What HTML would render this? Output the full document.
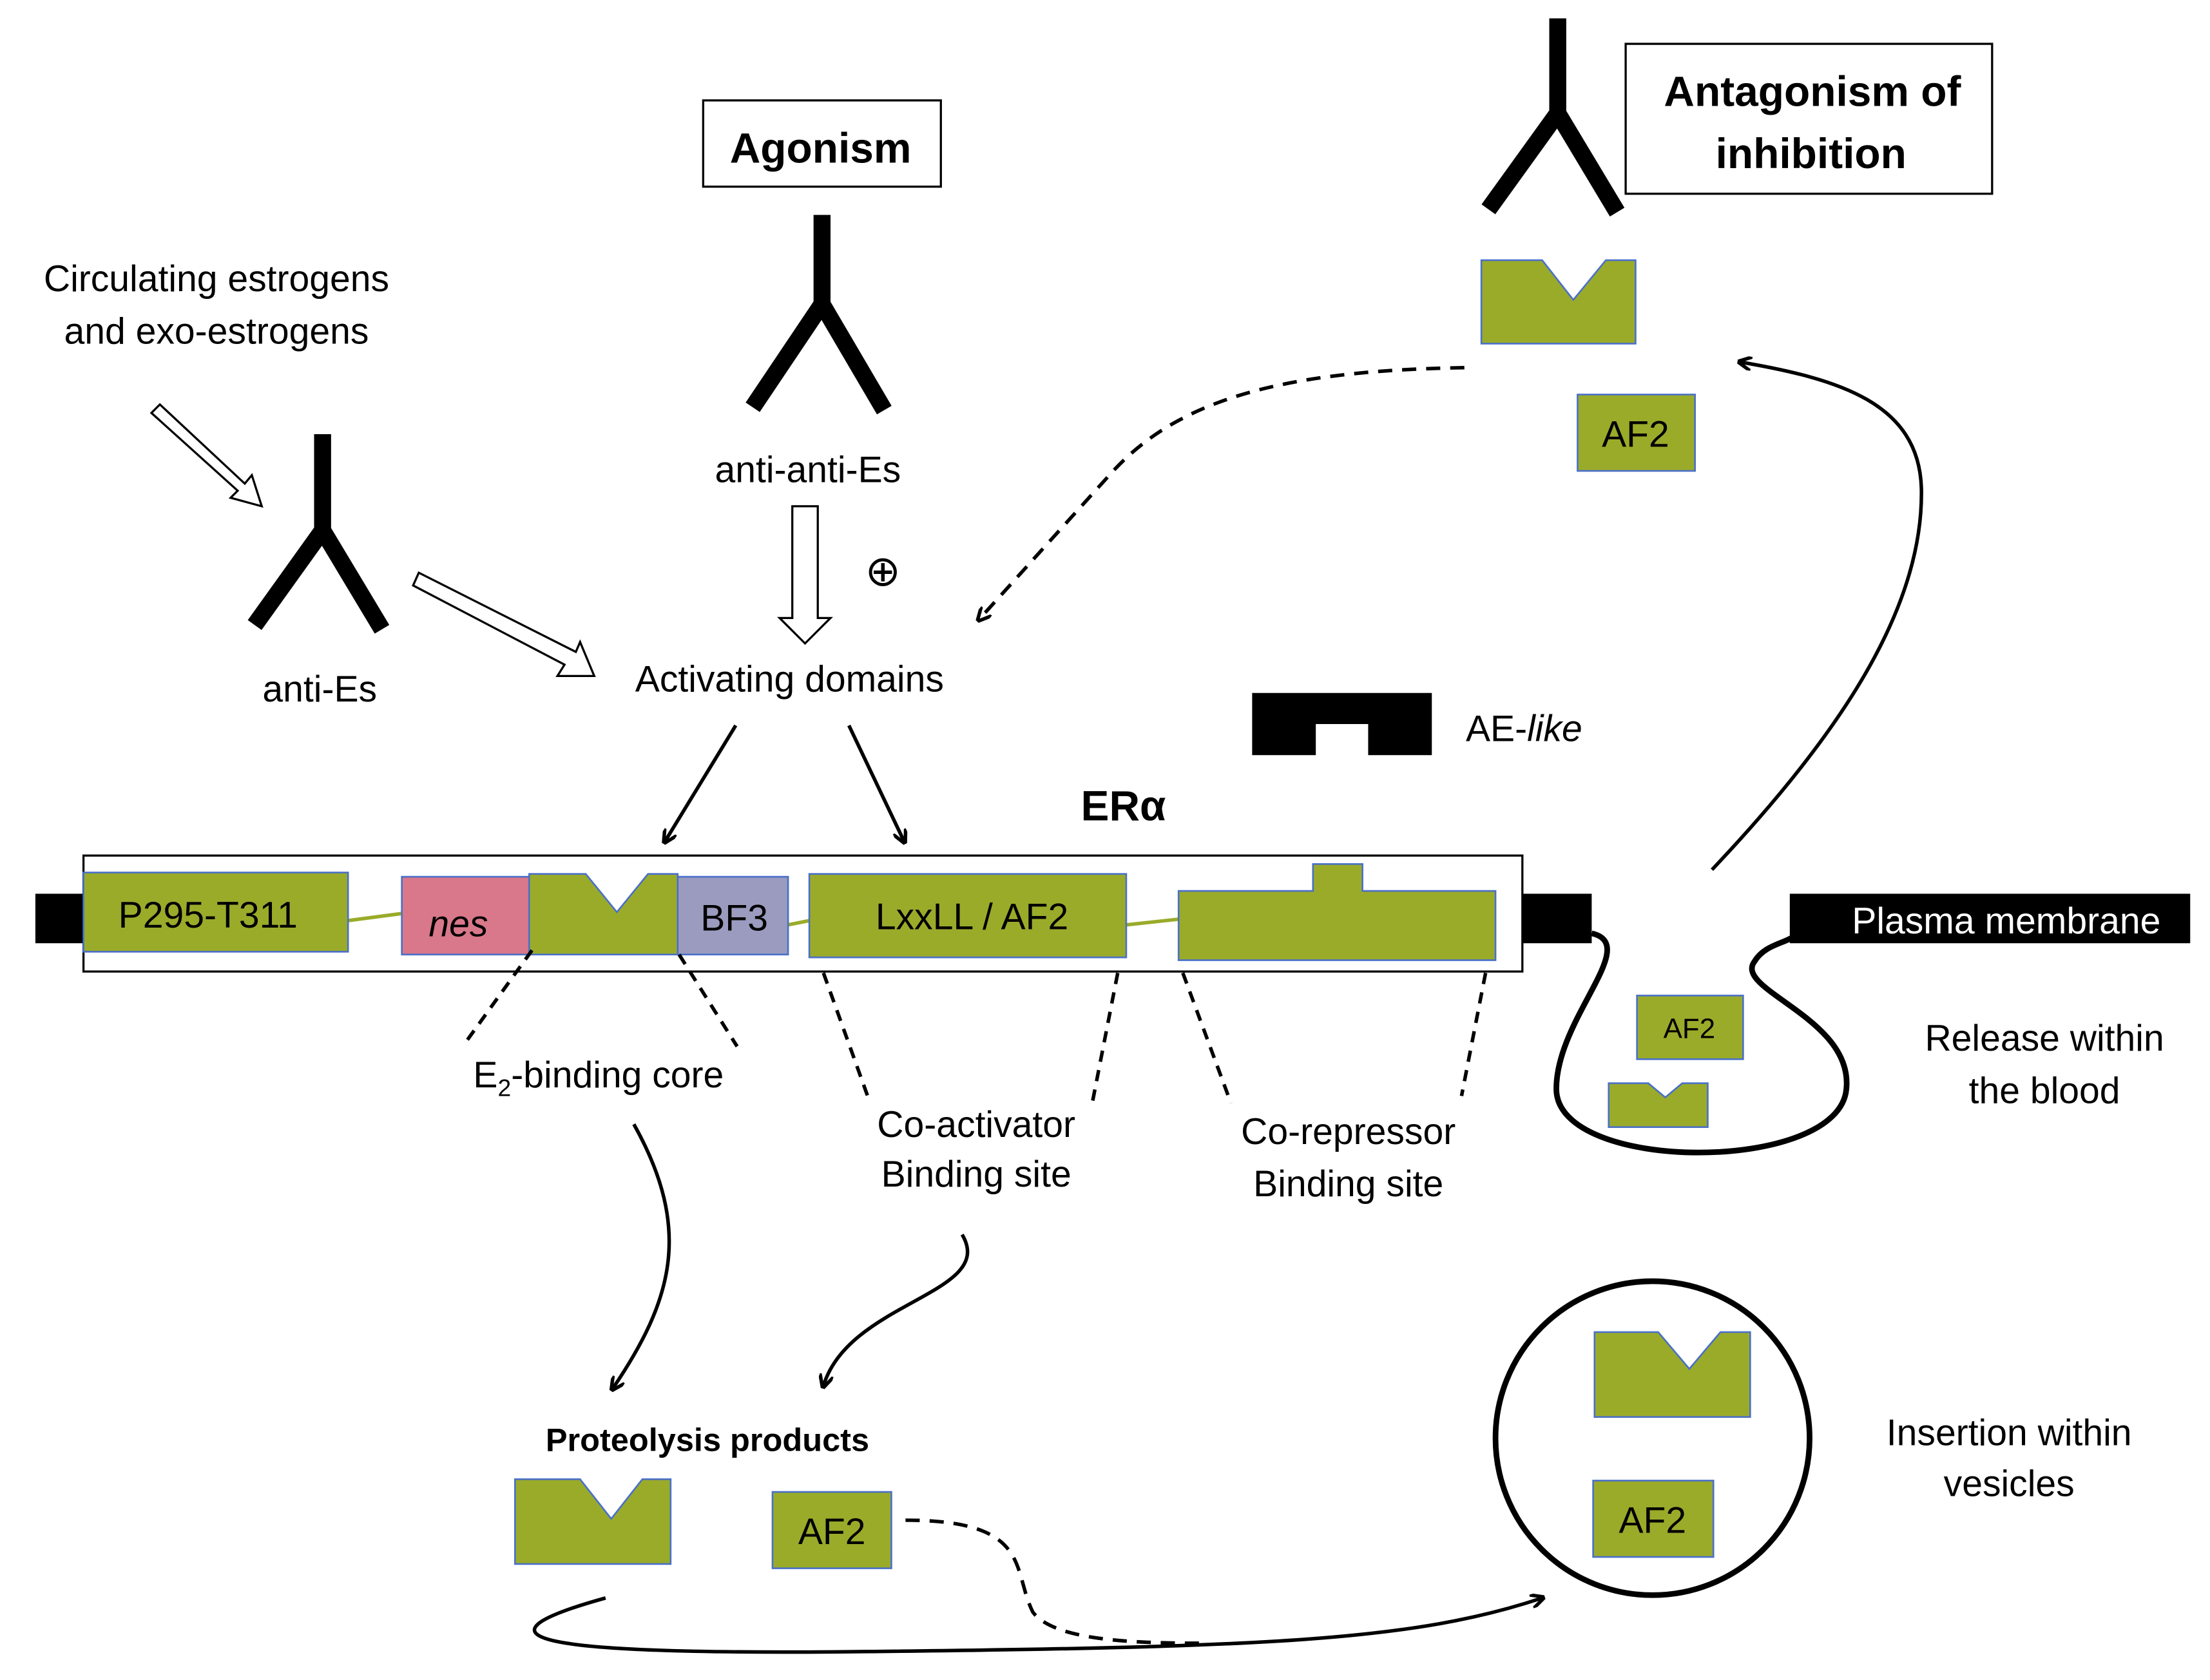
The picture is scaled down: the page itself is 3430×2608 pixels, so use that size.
<!DOCTYPE html>
<html><head><meta charset="utf-8"><style>
html,body{margin:0;padding:0;background:#fff;}
svg{display:block;}
text{font-family:"Liberation Sans",sans-serif;}
</style></head><body>
<svg width="3430" height="2608" viewBox="0 0 1562 1188" preserveAspectRatio="none" xmlns="http://www.w3.org/2000/svg">
<defs>
<marker id="ah" markerWidth="10" markerHeight="10" refX="8" refY="5" orient="auto" markerUnits="userSpaceOnUse">
<path d="M0,0 L10,5 L0,10" fill="none" stroke="#000" stroke-width="2.5"/></marker>
</defs>
<rect width="1562" height="1188" fill="#fff"/>
<!-- boxes -->
<rect x="497" y="71" width="168" height="61" fill="#fff" stroke="#000" stroke-width="1.5"/>
<text x="580" y="115" font-size="30" font-weight="bold" text-anchor="middle">Agonism</text>
<rect x="1149" y="31" width="259" height="106" fill="#fff" stroke="#000" stroke-width="1.5"/>
<text x="1281" y="75" font-size="30" font-weight="bold" text-anchor="middle">Antagonism of</text>
<text x="1280" y="119" font-size="30" font-weight="bold" text-anchor="middle">inhibition</text>
<!-- Y shapes -->
<g stroke="#000" stroke-width="12" fill="none">
<path d="M228,307 V375 M228,375 L180,442 M228,375 L270,445"/>
<path d="M581,152 V215 M581,215 L532,288 M581,215 L625,290"/>
<path d="M1101,13 V80 M1101,80 L1052,148 M1101,80 L1143,150"/>
</g>
<!-- texts -->
<g font-size="26" text-anchor="middle">
<text x="153" y="206">Circulating estrogens</text>
<text x="153" y="243">and exo-estrogens</text>
<text x="571" y="341">anti-anti-Es</text>
<text x="226" y="496">anti-Es</text>
<text x="558" y="489">Activating domains</text>
<text x="423" y="769">E<tspan font-size="17" dy="6">2</tspan><tspan dy="-6">-binding core</tspan></text>
<text x="690" y="804">Co-activator</text>
<text x="690" y="839">Binding site</text>
<text x="953" y="809">Co-repressor</text>
<text x="953" y="846">Binding site</text>
<text x="1445" y="743">Release within</text>
<text x="1445" y="780">the blood</text>
<text x="1420" y="1022">Insertion within</text>
<text x="1420" y="1058">vesicles</text>
</g>
<text x="1036" y="524" font-size="26">AE-<tspan font-style="italic">like</tspan></text>
<text x="794" y="580" font-size="30" font-weight="bold" text-anchor="middle">ERα</text>
<text x="500" y="1026" font-size="23" font-weight="bold" text-anchor="middle">Proteolysis products</text>
<text x="624" y="414" font-size="30" text-anchor="middle">⊕</text>
<!-- hollow arrows -->
<g fill="#fff" stroke="#000" stroke-width="1.5">
<polygon points="107,292 113,286 173,342 178,336 185,358 163,352 168,347"/>
<polygon points="292,414 296,405 407,461 410,454 420,478 394,478 399,470"/>
<polygon points="560,358 578,358 578,437 587,437 569,455 551,437 560,437"/>
</g>
<!-- black arrows -->
<g stroke="#000" stroke-width="2.5" fill="none" marker-end="url(#ah)">
<line x1="520" y1="513" x2="470" y2="595"/>
<line x1="600" y1="513" x2="639" y2="595"/>
<path d="M1210,615 C1300,520 1360,430 1358,345 C1356,285 1300,268 1230,256"/>
<path d="M448,795 C490,870 475,920 433,982"/>
<path d="M680,873 C705,915 600,920 582,980"/>
<path d="M428,1130 C320,1160 390,1170 600,1168 C900,1165 1000,1160 1090,1130"/>
</g>
<g stroke="#000" stroke-width="2.5" fill="none" stroke-dasharray="10,7">
<path d="M1035,260 C900,262 830,285 785,335 L692,438" marker-end="url(#ah)"/>
<path d="M640,1075 C730,1075 715,1110 730,1140 C745,1160 800,1162 850,1162"/>
</g>
<!-- AE-like -->
<path d="M885,490 H1012 V534 H967 V512 H930 V534 H885 Z" fill="#000"/>
<!-- membrane -->
<rect x="25" y="632" width="1100" height="35" fill="#000"/>
<rect x="59" y="605" width="1017" height="82" fill="#fff" stroke="#000" stroke-width="1.5"/>
<rect x="1265" y="632" width="283" height="35" fill="#000"/>
<text x="1418" y="660" font-size="26" fill="#fff" text-anchor="middle">Plasma membrane</text>
<path d="M1125,660 C1160,668 1100,720 1100,770 C1100,830 1300,830 1305,770 C1310,720 1225,700 1240,680 C1247,668 1262,667 1268,662" fill="none" stroke="#000" stroke-width="4"/>
<!-- connectors -->
<g stroke="#9aab2a" stroke-width="2.5">
<line x1="246" y1="651" x2="284" y2="646"/>
<line x1="557" y1="654" x2="572" y2="651"/>
<line x1="796" y1="654" x2="833" y2="650"/>
</g>
<!-- domains -->
<g stroke="#4a70c8" stroke-width="1.2">
<rect x="59" y="617" width="187" height="56" fill="#9aab2a"/>
<rect x="284" y="620" width="90" height="55" fill="#d9788a"/>
<path d="M374,618 H414 L436,645 L458,618 H479 V675 H374 Z" fill="#9aab2a"/>
<rect x="479" y="620" width="78" height="55" fill="#9b9bbf"/>
<rect x="572" y="618" width="224" height="59" fill="#9aab2a"/>
<path d="M833,630 H928 V611 H963 V630 H1057 V679 H833 Z" fill="#9aab2a"/>
<path d="M1047,184 H1090 L1112,212 L1135,184 H1156 V243 H1047 Z" fill="#9aab2a"/>
<rect x="1115" y="279" width="83" height="54" fill="#9aab2a"/>
<rect x="1157" y="704" width="75" height="45" fill="#9aab2a"/>
<path d="M1137,766 H1165 L1177,776 L1189,766 H1207 V797 H1137 Z" fill="#9aab2a"/>
<path d="M364,1046 H410 L432,1074 L454,1046 H474 V1106 H364 Z" fill="#9aab2a"/>
<rect x="546" y="1055" width="84" height="54" fill="#9aab2a"/>
<path d="M1127,942 H1172 L1194,968 L1216,942 H1237 V1002 H1127 Z" fill="#9aab2a"/>
<rect x="1126" y="1047" width="85" height="54" fill="#9aab2a"/>
</g>
<g font-size="26" text-anchor="middle">
<text x="147" y="656">P295-T311</text>
<text x="324" y="662" font-style="italic">nes</text>
<text x="519" y="658">BF3</text>
<text x="687" y="657">LxxLL / AF2</text>
<text x="1156" y="316">AF2</text>
<text x="1194" y="734" font-size="20">AF2</text>
<text x="588" y="1092">AF2</text>
<text x="1168" y="1084">AF2</text>
</g>
<!-- dashed leaders -->
<g stroke="#000" stroke-width="2.5" stroke-dasharray="8,6">
<line x1="376" y1="672" x2="327" y2="740"/>
<line x1="480" y1="675" x2="521" y2="740"/>
<line x1="582" y1="688" x2="615" y2="780"/>
<line x1="790" y1="688" x2="772" y2="780"/>
<line x1="836" y1="688" x2="870" y2="780"/>
<line x1="1050" y1="688" x2="1033" y2="775"/>
</g>
<circle cx="1168" cy="1017" r="111" fill="none" stroke="#000" stroke-width="4"/>
</svg>
</body></html>
